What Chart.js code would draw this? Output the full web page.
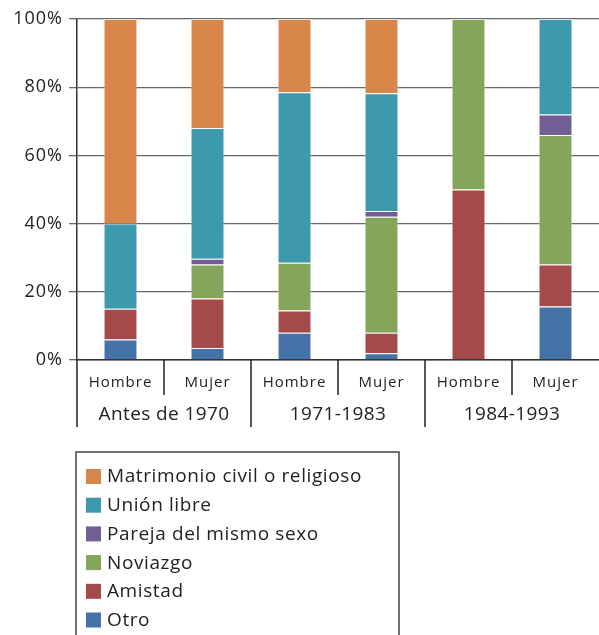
<!DOCTYPE html>
<html>
<head>
<meta charset="utf-8">
<script src="https://cdn.jsdelivr.net/npm/chart.js@4/dist/chart.umd.min.js"></script>
<style>
	body{margin:0;background:#fff}
	#wrap{width:599px;height:635px;position:relative}
</style>
</head>
<body>
<div id="wrap"><canvas id="barChart"></canvas></div>
<script>
var xLabels=['Hombre','Mujer','Hombre','Mujer','Hombre','Mujer']
var groupLabels=['Antes de 1970','1971-1983','1984-1993']
var yTicks=[0,20,40,60,80,100]

// porcentajes, de abajo hacia arriba
var otro=[6,3.5,8,2,0,15.7]
var amistad=[9,14.5,6.5,6,50,12.3]
var noviazgo=[0,10,14,34,50,38]
var pareja=[0,1.7,0,1.7,0,6]
var unionLibre=[25,38.3,50,34.5,0,28]
var matrimonio=[60,32,21.5,21.8,0,0]

var seriesNames=['Otro','Amistad','Noviazgo','Pareja del mismo sexo','Unión libre','Matrimonio civil o religioso']
var seriesColors=['#4573a7','#a54a4a','#85a55a','#705e94','#3d99ae','#d9864a']
var seriesData=[otro,amistad,noviazgo,pareja,unionLibre,matrimonio]

var fontFam='"Open Sans", "Noto Sans", sans-serif'

const extrasPlugin={
	id:'extras',
	beforeDraw:function(chart){
		chart.ctx.letterSpacing='1px'
	},
	afterDraw:function(chart){
		var ctx=chart.ctx
		var x=chart.scales.x
		var bottom=chart.chartArea.bottom
		var half=(x.getPixelForValue(1)-x.getPixelForValue(0))/2
		ctx.save()
		ctx.strokeStyle='#222'
		ctx.lineWidth=1.5
		ctx.fillStyle='#222'
		ctx.font='19px '+fontFam
		ctx.letterSpacing='0.4px'
		ctx.textAlign='center'
		ctx.textBaseline='middle'
		groupLabels.map(function(g,i){
			var left=x.getPixelForValue(2*i)-half
			var mid=x.getPixelForValue(2*i)+half
			ctx.beginPath()
			ctx.moveTo(left,bottom)
			ctx.lineTo(left,bottom+67)
			ctx.moveTo(mid,bottom)
			ctx.lineTo(mid,bottom+35)
			ctx.stroke()
			ctx.fillText(g,mid,bottom+55)
		})

		// leyenda
		var lx=76,ly=452
		ctx.lineWidth=1.5
		ctx.strokeStyle='#444'
		ctx.strokeRect(lx,ly,323,200)
		ctx.font='19px '+fontFam
		ctx.letterSpacing='0.6px'
		ctx.textAlign='left'
		var ds=chart.data.datasets.slice().reverse()
		ds.map(function(d,i){
			var cy=ly+25+i*28.7
			ctx.fillStyle=d.backgroundColor
			ctx.fillRect(86,cy-8,15,15)
			ctx.fillStyle='#222'
			ctx.fillText(d.label,107,cy)
		})
		ctx.restore()
	}
}

const makeChart=function(){
	var datasets=[]
	seriesData.map(function(vals,i){
		datasets.push({
			label:seriesNames[i],
			data:vals,
			backgroundColor:seriesColors[i],
			borderColor:'rgba(255,255,255,0.45)',
			borderWidth:1,
			barPercentage:0.39,
			categoryPercentage:1
		})
	})

	new Chart(document.getElementById('barChart'),{
		type:'bar',
		data:{labels:xLabels,datasets:datasets},
		options:{
			responsive:true,
			maintainAspectRatio:false,
			animation:false,
			layout:{padding:{top:19,right:0,left:0,bottom:0}},
			plugins:{legend:{display:false},tooltip:{enabled:false}},
			scales:{
				x:{
					stacked:true,
					afterFit:function(s){s.height=275},
					grid:{display:false,drawTicks:false},
					border:{display:true,color:'#333',width:1.5},
					ticks:{color:'#222',font:{family:fontFam,size:15},padding:14,maxRotation:0}
				},
				y:{
					stacked:true,
					min:0,
					max:100,
					afterFit:function(s){s.width=77},
					afterBuildTicks:function(s){s.ticks=yTicks.map(function(v){return {value:v}})},
					grid:{color:'#666',lineWidth:1.3,tickLength:8},
					border:{display:true,color:'#333',width:1.5},
					ticks:{color:'#222',font:{family:fontFam,size:18},padding:6,callback:function(v){return v+'%'}}
				}
			}
		},
		plugins:[extrasPlugin]
	})
}

makeChart()
</script>
</body>
</html>
